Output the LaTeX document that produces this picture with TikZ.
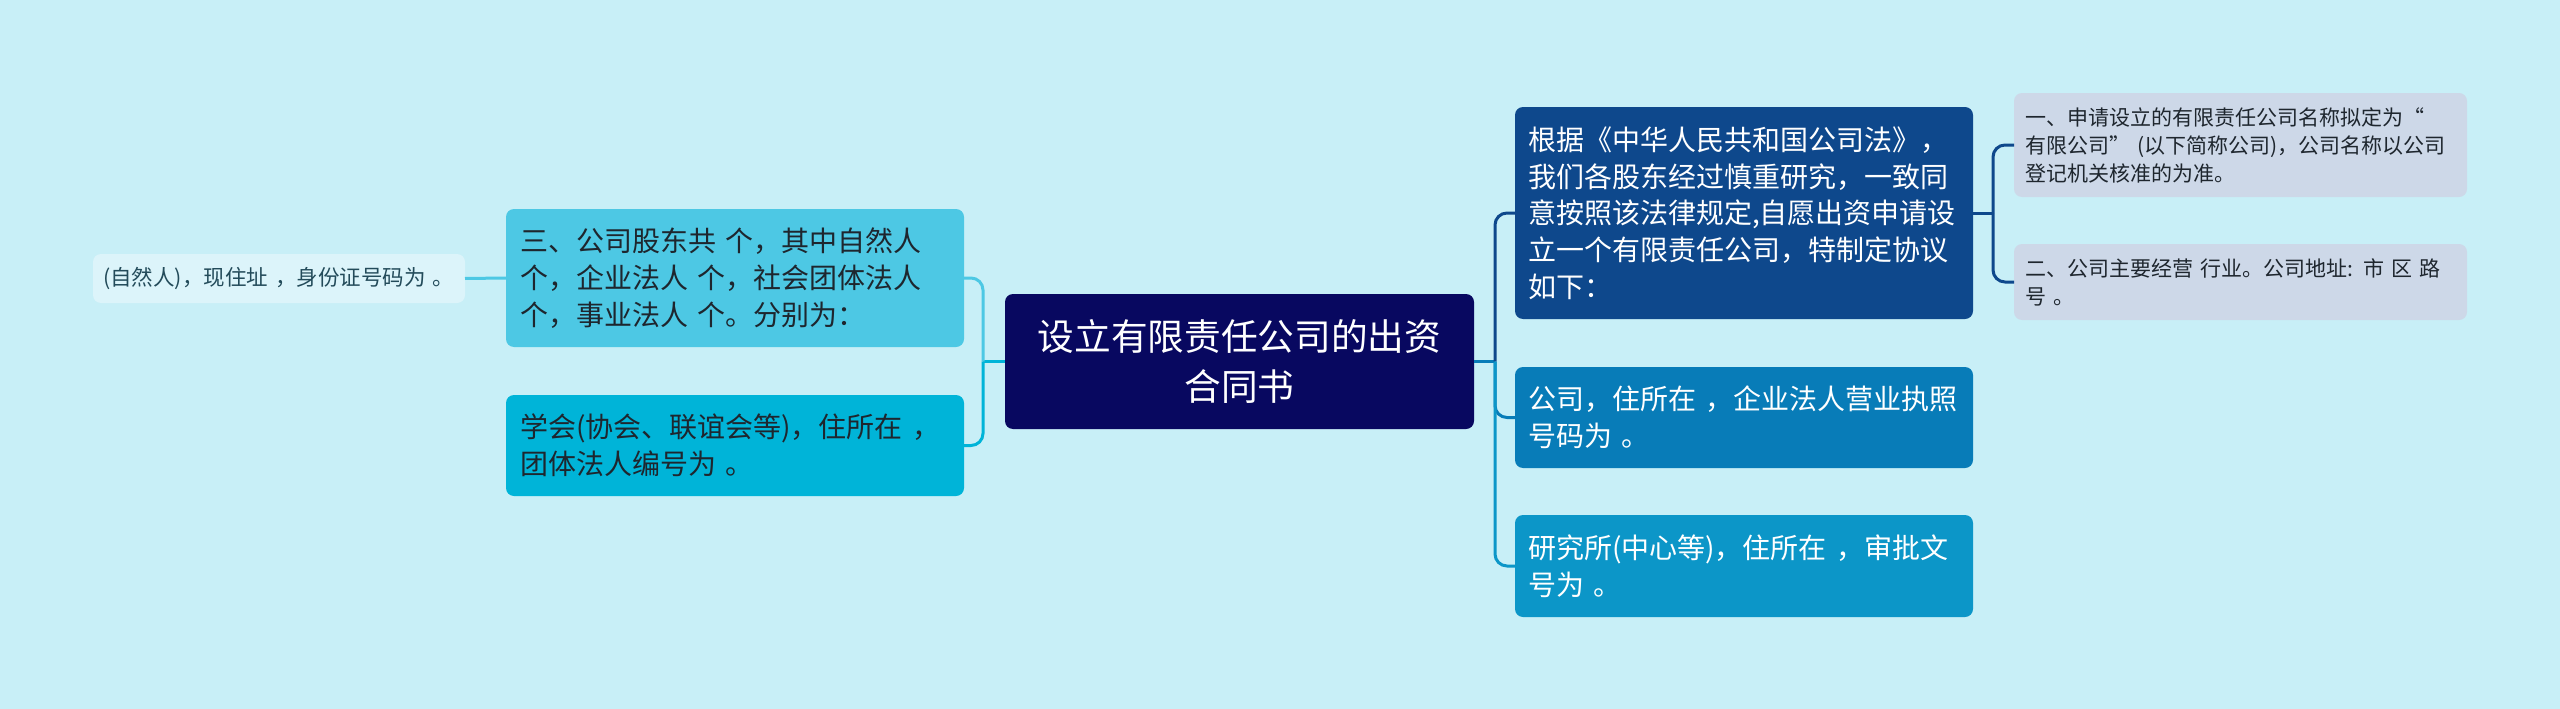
\documentclass[tikz,border=0pt]{standalone}
\usepackage{fontspec}
\usepackage{xcolor}
\newfontfamily\cjk{Noto Sans CJK SC}
\usetikzlibrary{positioning}

\definecolor{bgcyan}{RGB}{200,239,247}
\definecolor{rootnavy}{RGB}{8,8,96}
\definecolor{lsky}{RGB}{77,200,228}
\definecolor{lteal}{RGB}{0,180,216}
\definecolor{rdeep}{RGB}{14,72,140}
\definecolor{rmid}{RGB}{8,124,184}
\definecolor{rlight}{RGB}{12,150,200}
\definecolor{subgrey}{RGB}{205,216,232}
\definecolor{leafpale}{RGB}{220,244,250}
\definecolor{inkdark}{RGB}{30,38,46}
\definecolor{inkteal}{RGB}{35,75,90}

\tikzset{
  box/.style={anchor=north west,rounded corners=8pt,align=left,
              inner xsep=14pt,inner ysep=0pt,outer sep=0pt},
  mainfont/.style={font={\cjk\fontsize{28}{36.7}\selectfont}},
  smallfont/.style={font={\cjk\fontsize{21}{28}\selectfont}},
  link/.style={line width=3pt,rounded corners=12pt}
}

\begin{document}
\begin{tikzpicture}[x=1pt,y=-1pt]

  \fill[bgcyan] (0,0) rectangle (2560,709);
  \useasboundingbox (0,0) rectangle (2560,709);

  % ---------- centre ----------
  \node[box,align=center,fill=rootnavy,text=white,
        font={\cjk\fontsize{36.7}{50}\selectfont},
        text width=441,minimum height=135] (root) at (1005,294)
    {设立有限责任公司的出资\\合同书};

  % ---------- left branch ----------
  \node[box,mainfont,fill=lsky,text=inkdark,text width=430,minimum height=138]
    (left1) at (506,209)
    {三、公司股东共 个，其中自然人\\个，企业法人 个，社会团体法人\\个，事业法人 个。分别为：};
  \node[box,mainfont,fill=lteal,text=inkdark,text width=430,minimum height=101]
    (left2) at (506,395)
    {学会(协会、联谊会等)，住所在 ，\\团体法人编号为 。};
  \node[box,fill=leafpale,text=inkteal,inner xsep=10pt,
        font={\cjk\fontsize{21.5}{28}\selectfont},
        text width=352,minimum height=49] (leaf) at (93,254)
    {(自然人)，现住址 ，身份证号码为 。};

  % ---------- right branch ----------
  \node[box,mainfont,fill=rdeep,text=white,inner xsep=13pt,text width=432,
        minimum height=212] (right1) at (1515,107)
    {根据《中华人民共和国公司法》，\\我们各股东经过慎重研究，一致同\\意按照该法律规定,自愿出资申请设\\立一个有限责任公司，特制定协议\\如下：};
  \node[box,mainfont,fill=rmid,text=white,inner xsep=13pt,text width=432,
        minimum height=101] (right2) at (1515,367)
    {公司，住所在 ，企业法人营业执照\\号码为 。};
  \node[box,mainfont,fill=rlight,text=white,inner xsep=13pt,text width=432,
        minimum height=102] (right3) at (1515,515)
    {研究所(中心等)，住所在 ，审批文\\号为 。};

  % sub-items of the first clause
  \node[box,smallfont,fill=subgrey,text=inkdark,inner xsep=11pt,text width=431,
        minimum height=104] (sub1) at (2014,93)
    {一、申请设立的有限责任公司名称拟定为“\\有限公司” (以下简称公司)，公司名称以公司\\登记机关核准的为准。};
  \node[box,smallfont,fill=subgrey,text=inkdark,inner xsep=11pt,text width=431,
        minimum height=76] (sub2) at (2014,244)
    {二、公司主要经营 行业。公司地址: 市 区 路\\号 。};

  % ---------- connectors ----------
  \coordinate (jl) at (983,361.5);
  \coordinate (jr) at (1495,361.5);
  \coordinate (js) at (1993,213);

  \draw[link,lteal] (root.west) -- (jl);
  \draw[link,lsky] (jl) |- (left1.east);
  \draw[link,lteal] (jl) |- (left2.east);
  \draw[link,lsky] (left1.west) -- (leaf.east);

  \draw[link,rmid] (root.east) -- (jr);
  \draw[link,rdeep] (jr) |- (right1.west);
  \draw[link,rmid] (jr) |- (right2.west);
  \draw[link,rlight] (jr) |- (right3.west);

  \draw[link,rdeep] (right1.east) -- (js);
  \draw[link,rdeep] (js) |- (sub1.west);
  \draw[link,rdeep] (js) |- (sub2.west);

\end{tikzpicture}
\end{document}
